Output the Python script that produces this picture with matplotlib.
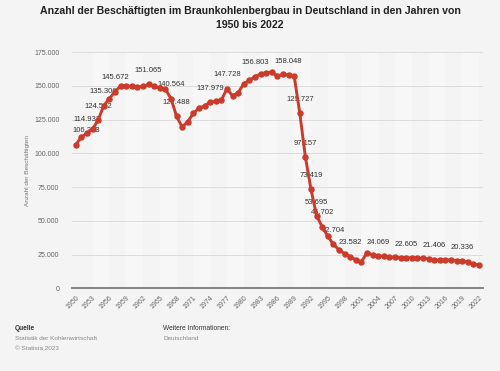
import numpy as np
import matplotlib.pyplot as plt
import matplotlib.ticker as mticker

years = list(range(1950, 2023))
employees = [
    106373, 112000, 114932, 118000, 124562, 135306, 140500, 145672, 149800, 150000,
    149500, 149000, 149500, 151065, 149500, 148500, 147500, 140564, 127488, 119500,
    123500, 129500, 133500, 135000, 137979, 138500, 139500, 147728, 142500, 145000,
    151500, 154000, 156803, 158800, 159800, 160000, 157300, 158500, 158048, 157000,
    129727, 97157, 73419, 53695, 45702, 38500, 32704, 28500, 25800, 23582,
    21200, 19800, 26500, 25000, 24069, 23700, 23300, 23100, 22900, 22605,
    22800, 22500, 22400, 22000, 21406, 20900, 21100, 21200, 20600, 20336,
    19500, 18300, 17100,
]
labeled_years = [1950, 1952, 1954, 1955, 1957, 1963, 1967, 1968, 1974, 1977, 1982,
                 1988, 1990, 1991, 1992, 1993, 1994, 1996, 1999, 2004, 2009, 2014, 2019]
tick_years = list(range(1950, 2023, 3))

def de_fmt(v, pos=None):
    return f"{int(v):,}".replace(",", ".")

plt.rcParams['font.family'] = ['Liberation Sans', 'DejaVu Sans']
bg = '#f4f4f4'
red = '#cc3a2a'

fig = plt.figure(figsize=(5, 3.71), dpi=100, facecolor=bg)
ax = fig.add_axes([0.144, 0.2224, 0.822, 0.6374])
ax.set_facecolor(bg)

# alternating column bands
for i, t in enumerate(tick_years[:-1]):
    if i % 2 == 1:
        ax.axvspan(t, t + 3, color='#f7f7f7', lw=0, zorder=0)

ax.plot(years, employees, color=red, lw=2.1, marker='o', ms=3.6, zorder=3)

for y, v in zip(years, employees):
    if y in labeled_years:
        if y == 1950:
            ax.annotate(de_fmt(v), (y, v), xytext=(-2, 10), textcoords='offset points',
                        ha='left', va='center', fontsize=5.5, color='#333333', zorder=2)
        else:
            ax.annotate(de_fmt(v), (y, v), xytext=(0, 10), textcoords='offset points',
                        ha='center', va='center', fontsize=5.5, color='#333333', zorder=2)

ax.set_xlim(1949.34, 2022.7)
ax.set_ylim(0, 175000)
ax.set_xticks(tick_years)
ax.set_xticklabels([str(t) for t in tick_years], rotation=45, ha='right',
                   rotation_mode='anchor', fontsize=5, color='#666666')
ax.set_yticks(range(0, 175001, 25000))
ax.yaxis.set_major_formatter(mticker.FuncFormatter(de_fmt))
ax.tick_params(axis='y', length=0, pad=9, labelsize=5, labelcolor='#666666')
ax.tick_params(axis='x', length=0, pad=4)
ax.grid(axis='y', color='#dcdcdc', lw=0.7)
ax.set_axisbelow(True)
for s in ['top', 'right', 'left']:
    ax.spines[s].set_visible(False)
ax.spines['bottom'].set_color('#7a7a7a')
ax.spines['bottom'].set_linewidth(1.3)
ax.set_ylabel('Anzahl der Beschäftigten', fontsize=4.6, color='#777777', labelpad=3)

fig.text(0.5, 1 - 6 / 371, 'Anzahl der Beschäftigten im Braunkohlenbergbau in Deutschland in den Jahren von\n1950 bis 2022',
         ha='center', va='top', fontsize=7.6, fontweight='bold', color='#222222', linespacing=1.55)

fig.text(15 / 500, 1 - 328 / 371, 'Quelle', fontsize=4.8, fontweight='bold', color='#333333', va='center')
fig.text(15 / 500, 1 - 339 / 371, 'Statistik der Kohlenwirtschaft', fontsize=4.6, color='#888888', va='center')
fig.text(15 / 500, 1 - 349 / 371, '© Statista 2023', fontsize=4.6, color='#888888', va='center')
fig.text(163 / 500, 1 - 329 / 371, 'Weitere Informationen:', fontsize=4.8, color='#333333', va='center')
fig.text(163 / 500, 1 - 338 / 371, 'Deutschland', fontsize=4.6, color='#888888', va='center')

fig.savefig('out.png', dpi=100, facecolor=bg)
